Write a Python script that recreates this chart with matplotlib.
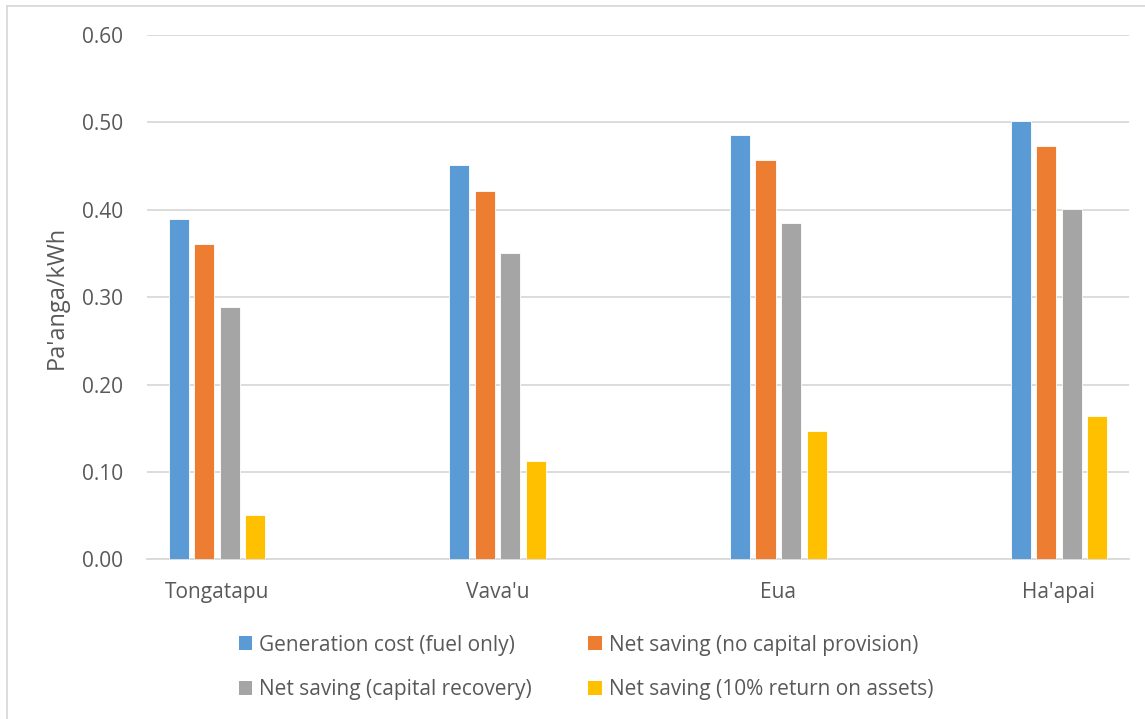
import matplotlib.pyplot as plt
import numpy as np
from matplotlib.lines import Line2D
from matplotlib.patches import Patch

islands = ["Tongatapu", "Vava'u", "Eua", "Ha'apai"]
series_names = [
    "Generation cost (fuel only)",
    "Net saving (no capital provision)",
    "Net saving (capital recovery)",
    "Net saving (10% return on assets)",
]
gen_cost = [0.389, 0.451, 0.486, 0.502]
no_capital = [0.361, 0.422, 0.457, 0.473]
capital_recovery = [0.289, 0.350, 0.385, 0.401]
return_assets = [0.051, 0.113, 0.147, 0.164]
colors = ["#5B9BD5", "#ED7D31", "#A5A5A5", "#FFC000"]

plt.rcParams['font.family'] = ['Open Sans', 'DejaVu Sans']
txt = "#595959"
grid = "#D9D9D9"

fig = plt.figure(figsize=(11.45, 7.19), dpi=100)
ax = fig.add_axes([0.1284, 0.2221, 0.8576, 0.7292])

x = np.arange(len(islands))
width = 0.0714
step = 0.091
all_series = [gen_cost, no_capital, capital_recovery, return_assets]
for i, (vals, c) in enumerate(zip(all_series, colors)):
    ax.bar(x + (i - 1.5) * step, vals, width, color=c, edgecolor="white",
           linewidth=0.6, zorder=3)

ax.set_xlim(-0.25, 3.25)
ax.set_ylim(0, 0.6)
ticks = np.arange(0, 0.61, 0.1)
ax.set_yticks(ticks)
ax.set_yticklabels([f"{v:.2f}" for v in ticks])
ax.set_xticks(x)
ax.set_xticklabels(islands)
ax.tick_params(axis='both', length=0, labelsize=15, colors=txt)
ax.tick_params(axis='y', pad=17)
ax.tick_params(axis='x', pad=16.5)
ax.yaxis.grid(True, color=grid, linewidth=1.3, zorder=0)
for s in ["top", "right", "left"]:
    ax.spines[s].set_visible(False)
ax.spines["bottom"].set_color(grid)
ax.spines["bottom"].set_linewidth(1.3)
ax.set_ylabel("Pa'anga/kWh", fontsize=17, color=txt)
ax.yaxis.set_label_coords(-0.0795, 0.5)

# legend is filled row by row in the source, matplotlib fills columns
order = [0, 2, 1, 3]
handles = [Patch(facecolor=colors[k], edgecolor="none") for k in order]
labels = [series_names[k] for k in order]
fig.legend(handles, labels, loc="upper left", bbox_to_anchor=(0.192, 0.1436),
           ncol=2, frameon=False, fontsize=15, labelcolor=txt,
           handlelength=0.65, handleheight=0.65, handletextpad=0.34,
           columnspacing=2.7, labelspacing=1.14)

# outer chart frame (clipped at right/bottom like the source)
fig.add_artist(Line2D([0.006, 0.006], [0, 0.992], transform=fig.transFigure,
                      color=grid, linewidth=1.3))
fig.add_artist(Line2D([0.006, 1.0], [0.992, 0.992], transform=fig.transFigure,
                      color=grid, linewidth=1.3))

fig.savefig("out.png", dpi=100)
